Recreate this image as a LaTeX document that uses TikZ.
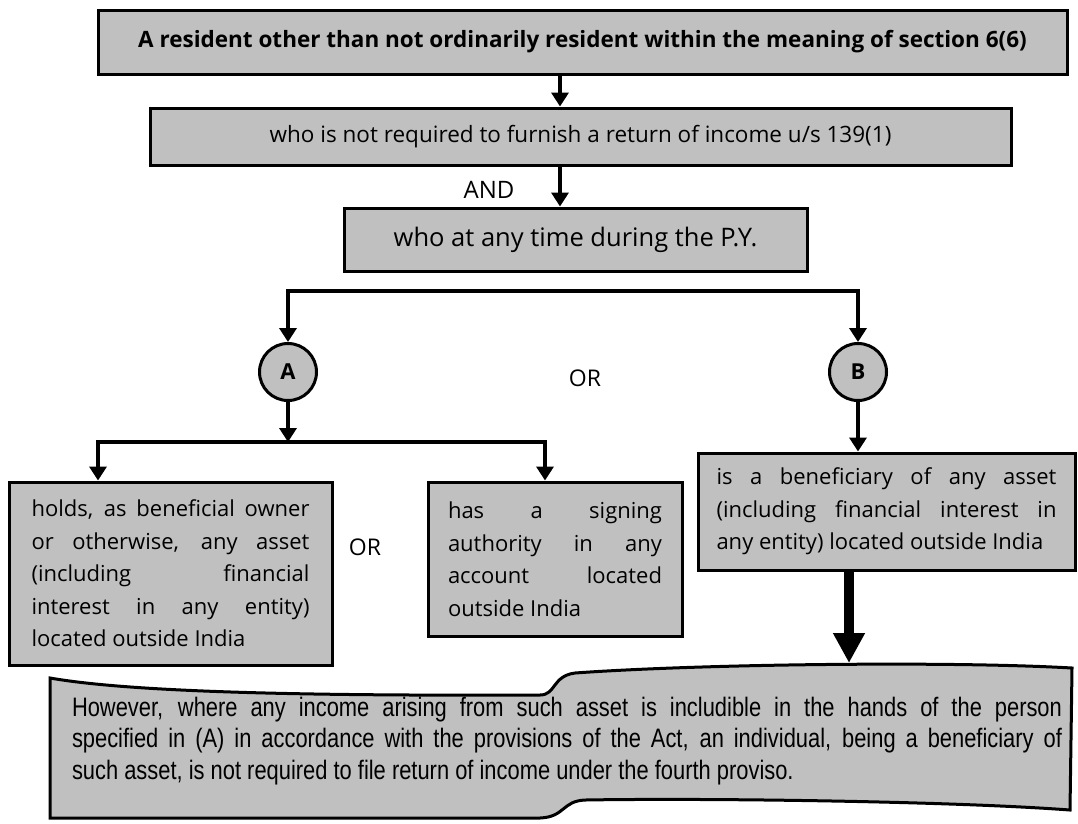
\documentclass[tikz,border=0pt]{standalone}
\usepackage{fontspec}
\setmainfont{Open Sans}
\newfontfamily\narrowfont[FakeStretch=0.82]{Liberation Sans}
\usetikzlibrary{arrows.meta,calc}
\definecolor{boxgray}{RGB}{192,192,192}
\begin{document}
\begin{tikzpicture}[x=1pt,y=-1pt,
  box/.style={draw, line width=3pt, fill=boxgray, inner sep=0pt, rectangle},
  para/.style={box, align=justify, font=\fontsize{22}{32.5}\selectfont},
  circ/.style={draw, line width=3pt, fill=boxgray, circle, minimum size=57pt, inner sep=0pt, font=\fontsize{22}{26}\selectfont\bfseries},
  lbl/.style={inner sep=0pt, font=\fontsize{23}{27}\selectfont},
  arr/.style={line width=3.5pt, -{Triangle[width=17pt,length=14pt]}},
  darr/.style={line width=3.5pt, {Triangle[width=17pt,length=14pt]}-{Triangle[width=17pt,length=14pt]}},
  bigarr/.style={line width=10pt, -{Triangle[width=30pt,length=30pt]}},
  notebox/.style={draw, line width=3pt, fill=boxgray}
]
\useasboundingbox (0,0) rectangle (1078,823);

% top boxes
\node[box, minimum width=969pt, minimum height=64pt, font=\fontsize{22.5}{26}\selectfont\bfseries] (top) at (582.5,42)
  {A resident other than not ordinarily resident within the meaning of section 6(6)};
\node[box, minimum width=861pt, minimum height=57pt, font=\fontsize{22.5}{26}\selectfont] (who) at (580.5,136.5)
  {who is not required to furnish a return of income u/s 139(1)};
\node[box, minimum width=463pt, minimum height=63pt, font=\fontsize{25.5}{30}\selectfont] (pyr) at (575.5,239.5)
  {who at any time during the P.Y.};

\coordinate (ax) at (560,0);
\draw[arr] (top.south -| ax) -- (who.north -| ax);
\draw[arr] (who.south -| ax) -- (pyr.north -| ax);
\node[lbl, font=\fontsize{24}{28}\selectfont] (and) at (489,190) {AND};

% circles
\node[circ] (A) at (288,372) {A};
\node[circ] (B) at (858,372) {B};
\node[lbl] (or1) at (585,378) {OR};

\coordinate (br1) at (0,291);
\draw[darr] (A.north) -- (A.north |- br1) -- (B.north |- br1) -- (B.north);

% lower boxes
\node[para, minimum width=323pt, minimum height=183pt, text width=278pt] (L) at (170.5,573.5)
  {holds, as beneficial owner\linebreak or otherwise, any asset\linebreak (including financial\linebreak interest in any entity)\linebreak located outside India};
\node[para, minimum width=254pt, minimum height=154pt, text width=214pt] (S) at (555,559)
  {has a signing\linebreak authority in any\linebreak account located\linebreak outside India};
\node[para, minimum width=377pt, minimum height=117pt, text width=340pt] (BB) at (886.5,511.5)
  {is a beneficiary of any asset\linebreak (including financial interest in\linebreak any entity) located outside India};
\node[lbl] (or2) at (365,547) {OR};

\coordinate (br2) at (0,442);
\coordinate (xL) at (98,0);
\coordinate (xS) at (545,0);
\draw[arr] (A.south) -- (A.south |- br2);
\draw[darr] (L.north -| xL) -- (xL |- br2) -- (xS |- br2) -- (S.north -| xS);
\draw[arr] (B.south) -- (BB.north -| B);

% bottom note shape
\coordinate (n1) at (50,678);
\coordinate (ntop) at (849,663);
\draw[notebox] (n1) .. controls (130,692) and (300,696) .. (540,695)
  .. controls (556,695) and (552,676) .. (575,673)
  .. controls (700,664) and (950,661) .. (1072,668)
  -- (1070,810)
  .. controls (950,801) and (700,798) .. (585,800)
  .. controls (562,801) and (565,817) .. (540,818)
  -- (50,818) -- cycle;
\node[inner sep=0pt, text width=990pt, align=justify, font=\narrowfont\fontsize{26.7}{31.7}\selectfont] (note) at (567,741)
  {However, where any income arising from such asset is includible in the hands of the person\linebreak specified in (A) in accordance with the provisions of the Act, an individual, being a beneficiary of\linebreak such asset, is not required to file return of income under the fourth proviso.};

\draw[bigarr] (BB.south -| ntop) -- (ntop);
\end{tikzpicture}
\end{document}
